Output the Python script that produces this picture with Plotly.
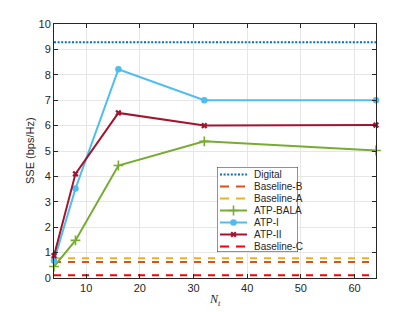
import plotly.graph_objects as go

nt = [4, 8, 16, 32, 64]
digital = 9.28
baseline_b = 0.63
baseline_a = 0.78
baseline_c = 0.11
atp_bala = [0.45, 1.48, 4.43, 5.38, 5.02]
atp_i = [0.68, 3.52, 8.22, 7.0, 7.0]
atp_ii = [0.88, 4.1, 6.5, 6.0, 6.02]

names = ["Digital", "Baseline-B", "Baseline-A", "ATP-BALA", "ATP-I", "ATP-II", "Baseline-C"]
colors = ["#0072BD", "#D95319", "#EDB120", "#77AC30", "#4DBEEE", "#A2142F", "#FF0000"]
dashes = ["2px,1.6px", "7px,7px", "7px,7px", "solid", "solid", "solid", "7px,7px"]
symbols = [None, None, None, "cross-thin", "circle", "x", None]

xr = [nt[0], nt[-1]]
series_y = [[digital] * 2, [baseline_b] * 2, [baseline_a] * 2, atp_bala, atp_i, atp_ii, [baseline_c] * 2]
series_x = [xr, xr, xr, nt, nt, nt, xr]

FONT = "Liberation Sans, Arial"
TXT = "#262626"


def marker_for(sym, col):
    if sym is None:
        return None
    if sym == "cross-thin":
        return dict(symbol=sym, size=7, color=col, line=dict(color=col, width=1.6))
    if sym == "x":
        return dict(symbol=sym, size=5.5, color=col, line=dict(width=0))
    return dict(symbol=sym, size=6.5, color=col, line=dict(width=0))


fig = go.Figure()
for nm, col, ds, sym, xs, ys in zip(names, colors, dashes, symbols, series_x, series_y):
    fig.add_trace(go.Scatter(
        x=xs, y=ys, name=nm, mode="lines+markers" if sym else "lines",
        line=dict(color=col, width=2, dash=ds), cliponaxis=False,
        marker=marker_for(sym, col), showlegend=False, hoverinfo="skip"))

# compact legend box (drawn on an overlay axis)
LW, LH = 81, 85
fig.add_trace(go.Scatter(x=[0, LW, LW, 0, 0], y=[0, 0, LH, LH, 0], mode="lines",
                         fill="toself", fillcolor="white",
                         line=dict(color=TXT, width=1),
                         xaxis="x2", yaxis="y2", showlegend=False, hoverinfo="skip"))
for i, (nm, col, ds, sym) in enumerate(zip(names, colors, dashes, symbols)):
    yy = 7.5 + 12 * i
    fig.add_trace(go.Scatter(x=[3, 30], y=[yy, yy], mode="lines",
                             line=dict(color=col, width=2, dash=ds if ds == "solid" or i == 0 else "9px,7px"),
                             xaxis="x2", yaxis="y2", showlegend=False, hoverinfo="skip"))
    if sym:
        fig.add_trace(go.Scatter(x=[16.5], y=[yy], mode="markers", marker=marker_for(sym, col),
                                 xaxis="x2", yaxis="y2", showlegend=False, hoverinfo="skip"))
    fig.add_annotation(x=35, y=yy, xref="x2", yref="y2", text=nm, showarrow=False,
                       xanchor="left", yanchor="middle",
                       font=dict(family=FONT, size=10, color=TXT))

axis_common = dict(showline=True, linecolor=TXT, linewidth=1, mirror="ticks",
                   ticks="inside", ticklen=4, tickcolor=TXT, automargin=False,
                   showgrid=True, gridcolor="#E6E6E6", gridwidth=1, zeroline=False,
                   tickfont=dict(family=FONT, size=11, color=TXT))

L, R, T, B = 54, 39, 24, 34
W, H = 415, 312
pw, ph = W - L - R, H - T - B
bx0, by0 = 217, 167

# axis titles
fig.add_annotation(x=(215 - L) / pw, y=(H - B - 300) / ph, xref="paper", yref="paper",
                   text="<i>N<sub>t</sub></i>", showarrow=False, xanchor="center", yanchor="middle",
                   font=dict(family="Liberation Serif, Times New Roman", size=12, color=TXT))
fig.add_annotation(x=(30 - L) / pw, y=0.5, xref="paper", yref="paper", textangle=-90,
                   text="SSE (bps/Hz)", showarrow=False, xanchor="center", yanchor="middle",
                   font=dict(family=FONT, size=11, color=TXT))

fig.update_layout(
    width=W, height=H,
    margin=dict(l=L, r=R, t=T, b=B, autoexpand=False),
    paper_bgcolor="white", plot_bgcolor="white",
    showlegend=False,
    xaxis=dict(range=[4, 64], tickvals=[10, 20, 30, 40, 50, 60], **axis_common),
    yaxis=dict(range=[0, 10], tickvals=list(range(0, 11)), **axis_common),
    xaxis2=dict(domain=[(bx0 - L) / pw, (bx0 + LW - L) / pw], range=[0, LW], visible=False,
                anchor="y2", fixedrange=True),
    yaxis2=dict(domain=[(H - B - (by0 + LH)) / ph, (H - B - by0) / ph], range=[LH, 0], visible=False,
                anchor="x2", fixedrange=True),
)

fig.write_html("out.html", config={"displayModeBar": False},
               post_script="document.body.style.margin='0';")
